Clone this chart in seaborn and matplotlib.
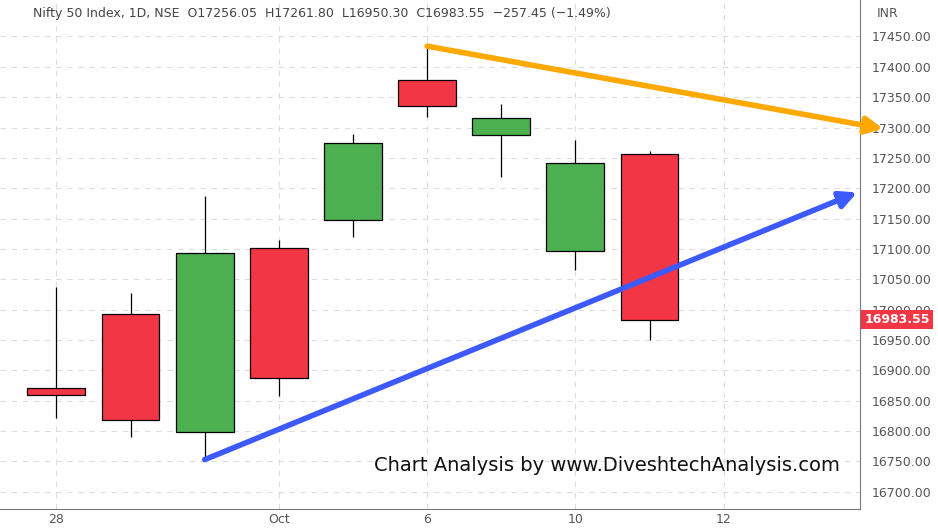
import numpy as np
import matplotlib
matplotlib.use("Agg")
import matplotlib.pyplot as plt
import seaborn as sns

opens = [16871, 16993, 16799, 17102, 17148, 17379, 17288, 17096, 17257]
closes = [16859, 16819, 17094, 16888, 17275, 17335, 17315, 17242, 16983.55]
highs = [17038, 17028, 17188, 17115, 17289, 17434, 17338, 17280, 17262]
lows = [16822, 16791, 16753, 16857, 17120, 17318, 17218, 17066, 16950]
date_pos = [0, 3, 5, 7, 9]
date_labels = ["28", "Oct", "6", "10", "12"]
orange_line = ([5, 11.15], [17434, 17298])
blue_line = ([2, 10.8], [16753, 17193])
price_ticks = list(range(16700, 17451, 50))

sns.set_style("white")
fig = plt.figure(figsize=(9.38, 5.3), dpi=100)
ax = fig.add_axes([0, 0.04, 0.917, 0.96])

green, red = "#4caf50", "#f23645"
x = np.arange(len(opens))
for i in x:
    up = closes[i] >= opens[i]
    lo, hi = min(opens[i], closes[i]), max(opens[i], closes[i])
    ax.vlines(i, lows[i], highs[i], color="black", lw=0.9, zorder=2)
    ax.bar(i, max(hi - lo, 1), bottom=lo, width=0.78, color=green if up else red,
           edgecolor="black", lw=0.9, zorder=3)

for (xs, ys), col in [(orange_line, "#ffa800"), (blue_line, "#3d5afe")]:
    ax.annotate("", xy=(xs[1], ys[1]), xytext=(xs[0], ys[0]), annotation_clip=False,
                arrowprops=dict(arrowstyle="-|>,head_length=1.0,head_width=0.5", color=col, lw=4,
                                shrinkA=0, shrinkB=0), zorder=4)

ax.set_xlim(-0.76, 10.84)
ax.set_ylim(16672, 17510)
ax.set_yticks(price_ticks)
ax.yaxis.tick_right()
ax.set_yticklabels([f"{v:.2f}" for v in price_ticks], fontsize=9, color="#555555")
ax.set_xticks(date_pos)
ax.set_xticklabels(date_labels, fontsize=9, color="#555555")
ax.tick_params(axis="y", length=0, pad=8)
ax.tick_params(axis="x", length=0, pad=3)
ax.grid(True, color="#dddddd", ls=(0, (5, 5)), lw=0.8)
for s in ["top", "left"]:
    ax.spines[s].set_visible(False)
ax.spines["right"].set_color("#777777")
ax.spines["bottom"].set_color("#777777")

fig.text(0.935, 0.975, "INR", fontsize=9, color="#555555", va="center")
ax.text(1.005, closes[-1], f"{closes[-1]:.2f}", transform=ax.get_yaxis_transform(), fontsize=9,
        color="white", weight="bold", va="center",
        bbox=dict(boxstyle="square,pad=0.25", fc=red, ec="none"))
fig.text(0.035, 0.975, "Nifty 50 Index, 1D, NSE  O17256.05  H17261.80  L16950.30  C16983.55  \u2212257.45 (\u22121.49%)",
         fontsize=9, color="#444444", va="center")
ax.text(0.977, 0.086, "Chart Analysis by www.DiveshtechAnalysis.com", transform=ax.transAxes,
        fontsize=14, ha="right", va="center", color="#111111")

fig.savefig("out.png", dpi=100)
